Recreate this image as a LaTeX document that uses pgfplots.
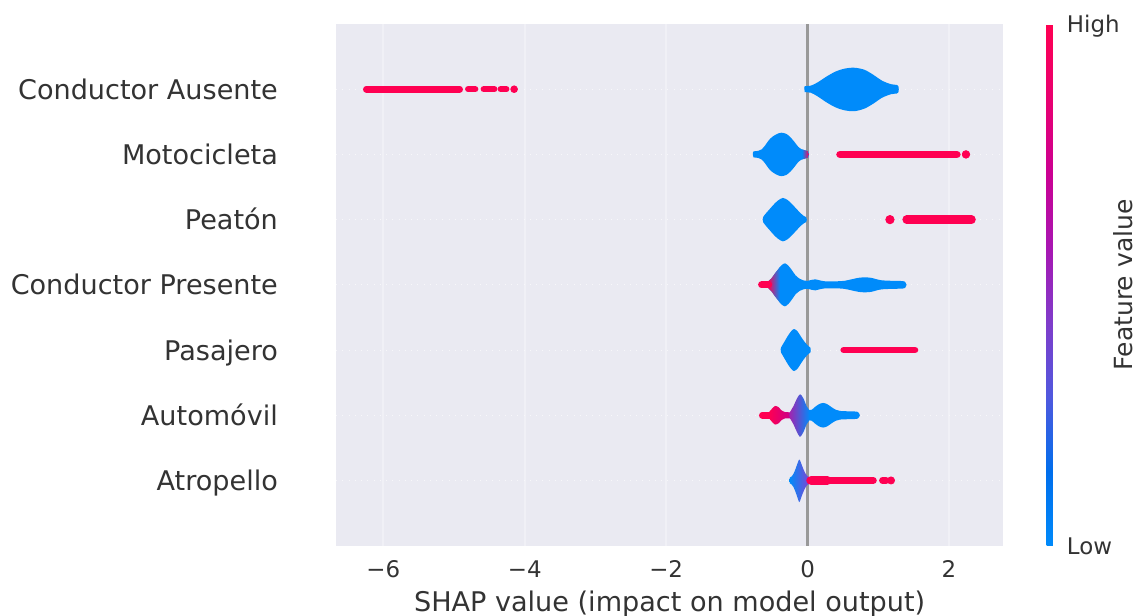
\documentclass[border=0pt]{standalone}
\usepackage{fontspec}
\setmainfont{DejaVu Sans}
\usepackage{pgfplots}
\pgfplotsset{compat=1.18}
\definecolor{bg}{HTML}{EAEAF2}
\definecolor{txt}{HTML}{333333}
\definecolor{zline}{HTML}{999999}
\definecolor{sblue}{RGB}{0,139,250}
\definecolor{sred}{RGB}{255,0,82}
\definecolor{spurple}{RGB}{125,70,210}
\definecolor{smag}{RGB}{200,0,140}
\pgfplotsset{
  vio/.style={draw=none, smooth, tension=0.5},
  strip/.style={sred, line width=#1, line cap=round},
  dot/.style={only marks, mark=*, mark size=#1, sred, mark options={draw=none, fill=sred}},
}
\begin{document}
\begin{tikzpicture}
\begin{axis}[
  name=main,
  scale only axis,
  width=320.3pt, height=250.4pt,
  xmin=-6.669, xmax=2.768, ymin=-1, ymax=7,
  axis background/.style={fill=bg},
  axis line style={draw=none},
  tick style={draw=none},
  major tick length=0pt,
  xtick={-6,-4,-2,0,2},
  xticklabels={−6,−4,−2,0,2},
  ytick={0,1,2,3,4,5,6},
  yticklabels={Atropello,Automóvil,Pasajero,Conductor Presente,Peatón,Motocicleta,Conductor Ausente},
  xticklabel style={font=\fontsize{11}{13}\selectfont, text=txt, anchor=base, inner sep=0pt, yshift=-15.5pt},
  yticklabel style={font=\fontsize{13}{15}\selectfont, text=txt, anchor=base east, inner sep=0pt, xshift=-27.7pt, yshift=-4.8pt},
  xlabel={SHAP value (impact on model output)},
  xlabel style={font=\fontsize{13}{15}\selectfont, text=txt, at={(axis description cs:0.5,0)}, anchor=base, inner sep=0pt, yshift=-31.7pt},
  xmajorgrids, ymajorgrids,
  major x grid style={white!30!bg, line width=1pt},
  major y grid style={white!60!bg, line width=0.5pt, dash pattern=on 0.5pt off 2.5pt},
  colorbar,
  colormap={shap}{rgb255=(0,138,250) rgb255=(0,110,236) rgb255=(80,88,222) rgb255=(128,60,202) rgb255=(168,22,178) rgb255=(203,0,146) rgb255=(233,0,112) rgb255=(255,0,82)},
  point meta min=0, point meta max=1,
  colorbar style={
    width=3.1pt,
    xshift=11.96pt,
    axis line style={draw=none},
    tick style={draw=none},
    major tick length=0pt,
    ytick={0,1}, yticklabels={Low,High},
    yticklabel style={font=\fontsize{11}{13}\selectfont, text=txt, anchor=base west, inner sep=0pt, xshift=6.5pt, yshift=-4.3pt},
  },
]
% zero line
\addplot[zline, line width=1.5pt] coordinates {(0,-1) (0,7)};

% ---- Conductor Ausente (row 6)
\addplot[vio, fill=sblue] table[row sep=\\, x=x, y expr={6+\thisrow{h}/65.2}] {
x h\\ -0.045 0\\ -0.04 3\\ 0.044 3.5\\ 0.139 6.7\\ 0.265 12.5\\ 0.391 17.5\\ 0.518 20.5\\ 0.657 21.5\\ 0.802 19.5\\ 0.928 14.5\\ 1.054 8.5\\ 1.18 5\\ 1.263 4.3\\ 1.285 3\\ 1.29 0\\
1.285 -3\\ 1.263 -4.3\\ 1.18 -5\\ 1.054 -8.5\\ 0.928 -14.5\\ 0.802 -19.5\\ 0.657 -22\\ 0.518 -21\\ 0.391 -18\\ 0.265 -13\\ 0.139 -7\\ 0.044 -3.5\\ -0.04 -3\\
} --cycle;
\addplot[strip=3.2pt] coordinates {(-6.24,6) (-4.92,6)};
\addplot[strip=3.0pt] coordinates {(-4.80,6) (-4.70,6)};
\addplot[strip=3.0pt] coordinates {(-4.58,6) (-4.43,6)};
\addplot[strip=3.0pt] coordinates {(-4.34,6) (-4.26,6)};
\addplot[dot=1.6pt] coordinates {(-4.15,6)};

% ---- Motocicleta (row 5)
\addplot[vio, fill=sblue] table[row sep=\\, x=x, y expr={5+\thisrow{h}/65.2}] {
x h\\ -0.775 0\\ -0.765 3\\ -0.70 3.5\\ -0.65 5\\ -0.60 9\\ -0.55 14\\ -0.50 17.5\\ -0.43 20.5\\ -0.37 21.7\\ -0.30 20.5\\ -0.24 17\\ -0.18 12\\ -0.13 7.5\\ -0.08 5\\ -0.03 4\\ 0.01 3\\ 0.02 0\\
0.01 -3\\ -0.03 -4\\ -0.08 -5\\ -0.13 -7.5\\ -0.18 -12\\ -0.24 -17\\ -0.30 -20.5\\ -0.37 -21.7\\ -0.43 -20.5\\ -0.50 -17.5\\ -0.55 -14\\ -0.60 -9\\ -0.65 -5\\ -0.70 -3.5\\ -0.765 -3\\
} --cycle;
\addplot[draw=none, left color=sblue, right color=sred] table[row sep=\\, x=x, y expr={5+\thisrow{h}/65.2}] {
x h\\ -0.08 5\\ -0.03 4\\ 0.01 3\\ 0.02 0\\ 0.01 -3\\ -0.03 -4\\ -0.08 -5\\
} --cycle;
\addplot[strip=3.7pt] coordinates {(0.46,5) (2.11,5)};
\addplot[dot=1.8pt] coordinates {(2.24,5)};

% ---- Peaton (row 4)
\addplot[vio, fill=sblue] table[row sep=\\, x=x, y expr={4+\thisrow{h}/65.2}] {
x h\\ -0.635 0\\ -0.625 3\\ -0.58 7\\ -0.53 11\\ -0.48 15\\ -0.42 19\\ -0.35 21.7\\ -0.28 19.5\\ -0.22 15.5\\ -0.16 11\\ -0.10 6.5\\ -0.05 3.5\\ -0.02 2.5\\ -0.01 0\\
-0.02 -2.5\\ -0.05 -3.5\\ -0.10 -6.5\\ -0.16 -11\\ -0.22 -15.5\\ -0.28 -19.5\\ -0.35 -21.7\\ -0.42 -19\\ -0.48 -15\\ -0.53 -11\\ -0.58 -7\\ -0.625 -3\\
} --cycle;
\addplot[dot=2pt] coordinates {(1.165,4)};
\addplot[strip=4pt] coordinates {(1.40,4) (2.32,4)};

% ---- Conductor Presente (row 3)
\addplot[vio, fill=sblue] table[row sep=\\, x=x, y expr={3+\thisrow{h}/65.2}] {
x h\\ -0.56 0\\ -0.555 3.5\\ -0.51 6.5\\ -0.46 11.5\\ -0.41 16\\ -0.37 19.5\\ -0.32 21.5\\ -0.27 19\\ -0.22 14.5\\ -0.17 9.5\\ -0.11 6\\ -0.06 4.5\\ 0.0 4\\ 0.06 5\\ 0.11 5.5\\ 0.17 4.5\\ 0.25 3.5\\ 0.40 3.5\\ 0.52 4\\ 0.62 5.5\\ 0.72 7\\ 0.81 7.5\\ 0.90 7\\ 0.98 5.5\\ 1.05 4.5\\ 1.20 4\\ 1.33 3.8\\ 1.38 3\\ 1.40 0\\
1.38 -3\\ 1.33 -3.8\\ 1.20 -4\\ 1.05 -4.5\\ 0.98 -5.5\\ 0.90 -7\\ 0.81 -7.5\\ 0.72 -7\\ 0.62 -5.5\\ 0.52 -4\\ 0.40 -3.5\\ 0.25 -3.5\\ 0.17 -4.5\\ 0.11 -5.5\\ 0.06 -5\\ 0.0 -4\\ -0.06 -4.5\\ -0.11 -6\\ -0.17 -9.5\\ -0.22 -14.5\\ -0.27 -19\\ -0.32 -21.5\\ -0.37 -19.5\\ -0.41 -16\\ -0.46 -11.5\\ -0.51 -6.5\\ -0.555 -3.5\\
} --cycle;
\addplot[draw=none, left color=sred, middle color=smag, right color=sblue] table[row sep=\\, x=x, y expr={3+\thisrow{h}/65.2}] {
x h\\ -0.56 0\\ -0.555 3.5\\ -0.51 6.5\\ -0.46 11.5\\ -0.41 16\\ -0.39 17.8\\ -0.39 -17.8\\ -0.41 -16\\ -0.46 -11.5\\ -0.51 -6.5\\ -0.555 -3.5\\
} --cycle;
\addplot[strip=3.4pt] coordinates {(-0.65,3) (-0.55,3)};

% ---- Pasajero (row 2)
\addplot[vio, fill=sblue] table[row sep=\\, x=x, y expr={2+\thisrow{h}/65.2}] {
x h\\ -0.38 0\\ -0.375 2.5\\ -0.33 8\\ -0.28 14\\ -0.23 19\\ -0.19 21\\ -0.14 18.5\\ -0.09 13\\ -0.04 8\\ 0.01 4\\ 0.04 2.5\\ 0.045 0\\
0.04 -2.5\\ 0.01 -4\\ -0.04 -8\\ -0.09 -13\\ -0.14 -18.5\\ -0.19 -21\\ -0.23 -19\\ -0.28 -14\\ -0.33 -8\\ -0.375 -2.5\\
} --cycle;
\addplot[strip=3.1pt] coordinates {(0.51,2) (1.52,2)};

% ---- Automovil (row 1)
\addplot[strip=3.2pt] coordinates {(-0.64,1) (-0.52,1)};
\addplot[vio, left color=sred, middle color=spurple, right color=smag] table[row sep=\\, x=x, y expr={1+\thisrow{h}/65.2}] {
x h\\ -0.55 0\\ -0.545 3\\ -0.51 6\\ -0.46 9.3\\ -0.41 8\\ -0.37 5\\ -0.32 3.2\\ -0.27 3\\ -0.235 3\\ -0.23 0\\
-0.235 -3\\ -0.27 -3\\ -0.32 -3.2\\ -0.37 -5\\ -0.41 -8\\ -0.46 -9.3\\ -0.51 -6\\ -0.545 -3\\
} --cycle;
\addplot[vio, fill=sblue] table[row sep=\\, x=x, y expr={1+\thisrow{h}/65.2}] {
x h\\ 0.005 0\\ 0.01 5\\ 0.058 5.5\\ 0.10 8\\ 0.16 11\\ 0.22 12.3\\ 0.28 11\\ 0.34 8\\ 0.40 5.5\\ 0.46 4.3\\ 0.55 4\\ 0.65 3.8\\ 0.71 3.3\\ 0.74 0\\
0.71 -3.3\\ 0.65 -3.8\\ 0.55 -4\\ 0.46 -4.3\\ 0.40 -5.5\\ 0.34 -8\\ 0.28 -11\\ 0.22 -12.3\\ 0.16 -11\\ 0.10 -8\\ 0.058 -5.5\\ 0.01 -5\\
} --cycle;
\addplot[vio, left color=smag!50!spurple, middle color=spurple!50!sblue, right color=sblue] table[row sep=\\, x=x, y expr={1+\thisrow{h}/65.2}] {
x h\\ -0.26 0\\ -0.25 3\\ -0.20 9\\ -0.155 16\\ -0.107 21\\ -0.06 17\\ -0.013 9\\ 0.025 5\\ 0.03 0\\
0.025 -5\\ -0.013 -9\\ -0.06 -17\\ -0.107 -21.5\\ -0.155 -16\\ -0.20 -9\\ -0.25 -3\\
} --cycle;

% ---- Atropello (row 0)
\addplot[vio, left color=sblue, middle color=spurple, right color=spurple] table[row sep=\\, x=x, y expr={0+\thisrow{h}/65.2}] {
x h\\ -0.255 0\\ -0.25 3\\ -0.225 4\\ -0.20 6.5\\ -0.178 10\\ -0.15 15.5\\ -0.117 21\\ -0.09 17\\ -0.06 11.5\\ -0.03 7\\ -0.005 4.5\\ 0.02 3.5\\ 0.025 0\\
0.02 -3.5\\ -0.005 -4.5\\ -0.03 -7\\ -0.06 -11.5\\ -0.09 -17\\ -0.117 -21.7\\ -0.15 -15.5\\ -0.178 -10\\ -0.20 -6.5\\ -0.225 -4\\ -0.25 -3\\
} --cycle;
\addplot[strip=3.3pt] coordinates {(0.03,0) (0.93,0)};
\addplot[strip=4.2pt] coordinates {(0.05,0) (0.28,0)};
\addplot[strip=3.3pt] coordinates {(1.06,0) (1.11,0)};
\addplot[dot=1.7pt] coordinates {(1.18,0)};
\end{axis}
\node[rotate=90, anchor=base, font=\fontsize{12}{14}\selectfont, text=txt, inner sep=0pt] at ([xshift=62.2pt]main.east) {Feature value};
\pgfresetboundingbox
\path ([xshift=-161.28pt,yshift=-33.74pt]main.south west) rectangle ([xshift=64.66pt,yshift=11.52pt]main.north east);
\end{tikzpicture}
\end{document}
